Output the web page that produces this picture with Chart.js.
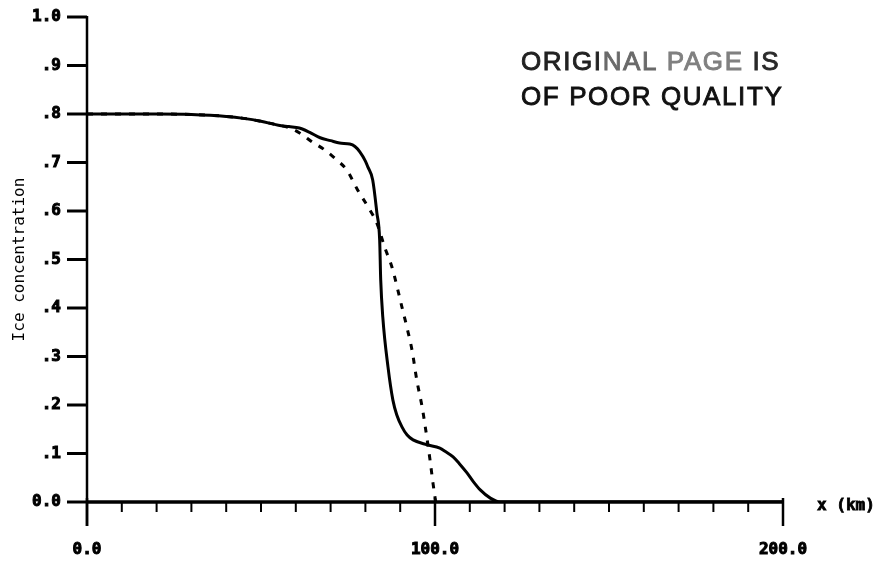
<!DOCTYPE html>
<html>
<head>
<meta charset="utf-8">
<script src="https://cdn.jsdelivr.net/npm/chart.js@4/dist/chart.umd.min.js"></script>
<style>
html,body{margin:0;padding:0;background:#fff;}
#wrap{width:881px;height:566px;position:relative;}
</style>
</head>
<body>
<div id="wrap"><canvas id="c" width="881" height="566"></canvas></div>
<script>
// ---- data ----
const solidX = [0, 10, 20, 30, 40, 45, 50, 55, 58, 61, 64, 67, 70, 72.6, 75.5, 77, 78.4, 80, 80.7, 82.1, 83.3, 84.1, 84.4, 85.0, 86.5, 87.9, 89, 90.5, 92, 93.7, 97.7, 101.4, 103, 105.2, 107, 109.2, 111, 113, 115.9, 118.7, 150, 200];
const solidY = [0.8, 0.8, 0.8, 0.799, 0.795, 0.791, 0.785, 0.777, 0.774, 0.771, 0.762, 0.751, 0.745, 0.740, 0.738, 0.733, 0.722, 0.703, 0.691, 0.664, 0.596, 0.540, 0.458, 0.381, 0.278, 0.210, 0.180, 0.155, 0.138, 0.128, 0.118, 0.111, 0.104, 0.093, 0.079, 0.060, 0.042, 0.025, 0.008, 0, 0, 0];

const dashedX = [0, 10, 20, 30, 40, 45, 50, 55, 58, 61.1, 64.8, 68.3, 71.8, 74.6, 77.8, 81.3, 83.3, 85.6, 87.6, 90.5, 91.9, 93.4, 94.8, 96.3, 97.1, 98.6, 99.4, 100.2];
const dashedY = [0.8, 0.8, 0.8, 0.799, 0.795, 0.791, 0.785, 0.777, 0.772, 0.761, 0.742, 0.726, 0.705, 0.685, 0.643, 0.602, 0.575, 0.524, 0.485, 0.402, 0.361, 0.313, 0.250, 0.196, 0.160, 0.085, 0.040, 0];

const xTickValues = [0, 100, 200];
const xTickLabels = ['0.0', '100.0', '200.0'];
const yTickLabels = ['0.0', '.1', '.2', '.3', '.4', '.5', '.6', '.7', '.8', '.9', '1.0'];
const yTitle = 'Ice concentration';
const xTitle = 'x (km)';
const stampLine1 = ['ORIGI', 'NAL', ' PAGE', ' IS'];
const stampLine1Colors = ['#222', '#6a6a6a', '#808080', '#2a2a2a'];
const stampLine2 = 'OF POOR QUALITY';

const toPts = (xs, ys) => xs.map((x, i) => ({x: x, y: ys[i]}));

const tickFont = {family: 'DejaVu Sans Mono', size: 16, weight: 'bold'};

const axesPlugin = {
  id: 'axesPlugin',
  beforeDatasetsDraw(chart) {
    const ctx = chart.ctx, xs = chart.scales.x, ys = chart.scales.y;
    const x0 = xs.getPixelForValue(0), x200 = xs.getPixelForValue(200);
    const y0 = ys.getPixelForValue(0), y1 = ys.getPixelForValue(1);
    ctx.save();
    ctx.strokeStyle = '#000';
    ctx.lineCap = 'butt';
    ctx.lineWidth = 3.5;
    ctx.beginPath(); ctx.moveTo(x0 - 1, y0); ctx.lineTo(x200 + 1, y0); ctx.stroke();
    ctx.lineWidth = 2.5;
    ctx.beginPath(); ctx.moveTo(x0, y1 - 1); ctx.lineTo(x0, y0 + 24); ctx.stroke();
    ctx.lineWidth = 3;
    ys.ticks.forEach(t => {
      const py = ys.getPixelForValue(t.value);
      ctx.beginPath(); ctx.moveTo(x0 - 20, py); ctx.lineTo(x0, py); ctx.stroke();
    });
    xs.ticks.forEach(t => {
      const px = xs.getPixelForValue(t.value);
      const major = xTickValues.indexOf(Math.round(t.value)) >= 0;
      ctx.lineWidth = major ? 2.5 : 2;
      ctx.beginPath();
      ctx.moveTo(px, major ? y0 - 4 : y0);
      ctx.lineTo(px, y0 + (major ? 24 : 10));
      ctx.stroke();
    });
    ctx.restore();
  },
  afterDraw(chart) {
    const ctx = chart.ctx, xs = chart.scales.x, ys = chart.scales.y;
    const x200 = xs.getPixelForValue(200), y0 = ys.getPixelForValue(0);
    ctx.save();
    ctx.fillStyle = '#000';
    ctx.strokeStyle = '#000';
    ctx.lineWidth = 0.8;
    ctx.font = 'bold 16px "DejaVu Sans Mono"';
    ctx.textAlign = 'left';
    ctx.textBaseline = 'middle';
    ctx.fillText(xTitle, x200 + 34, y0 + 4);
    ctx.strokeText(xTitle, x200 + 34, y0 + 4);
    // stamp
    ctx.font = '26px "Liberation Sans"';
    try { ctx.letterSpacing = '1.6px'; } catch (e) {}
    ctx.textBaseline = 'alphabetic';
    ctx.lineWidth = 0.9;
    let cx = 521;
    stampLine1.forEach((s, i) => {
      ctx.fillStyle = stampLine1Colors[i];
      ctx.strokeStyle = stampLine1Colors[i];
      ctx.fillText(s, cx, 70);
      ctx.strokeText(s, cx, 70);
      cx += ctx.measureText(s).width;
    });
    ctx.fillStyle = '#111';
    ctx.strokeStyle = '#111';
    ctx.fillText(stampLine2, 521, 105);
    ctx.strokeText(stampLine2, 521, 105);
    ctx.restore();
  }
};

new Chart(document.getElementById('c'), {
  type: 'line',
  data: {
    datasets: [
      {
        label: 'solid',
        data: toPts(solidX, solidY),
        borderColor: '#000',
        borderWidth: 3,
        pointRadius: 0,
        cubicInterpolationMode: 'monotone',
        fill: false
      },
      {
        label: 'dashed',
        data: toPts(dashedX, dashedY),
        borderColor: '#000',
        borderWidth: 3,
        borderDash: [6, 8],
        pointRadius: 0,
        cubicInterpolationMode: 'monotone',
        fill: false
      }
    ]
  },
  options: {
    responsive: false,
    animation: false,
    devicePixelRatio: 1,
    layout: {padding: {top: 17, right: 98, left: 0, bottom: 0}},
    plugins: {legend: {display: false}, tooltip: {enabled: false}},
    scales: {
      x: {
        type: 'linear', min: 0, max: 200,
        grid: {display: false, drawTicks: false},
        border: {display: false},
        ticks: {
          stepSize: 10, autoSkip: false, maxRotation: 0, padding: 38,
          font: tickFont, color: '#000', textStrokeColor: '#000', textStrokeWidth: 1,
          callback: v => { const i = xTickValues.indexOf(Math.round(v)); return i >= 0 ? xTickLabels[i] : ''; }
        },
        afterFit: s => { s.height = 64; s.paddingLeft = 0; s.paddingRight = 0; }
      },
      y: {
        type: 'linear', min: 0, max: 1,
        grid: {display: false, drawTicks: false},
        border: {display: false},
        ticks: {
          stepSize: 0.1, autoSkip: false, padding: 26,
          font: tickFont, color: '#000', textStrokeColor: '#000', textStrokeWidth: 1,
          callback: v => yTickLabels[Math.round(v * 10)]
        },
        title: {
          display: true, text: yTitle, color: '#000',
          font: {family: 'DejaVu Sans Mono', size: 16},
          padding: {top: 10, bottom: 0}
        },
        afterFit: s => { s.width = 87; s.paddingTop = 0; s.paddingBottom = 0; }
      }
    }
  },
  plugins: [axesPlugin]
});
</script>
</body>
</html>
